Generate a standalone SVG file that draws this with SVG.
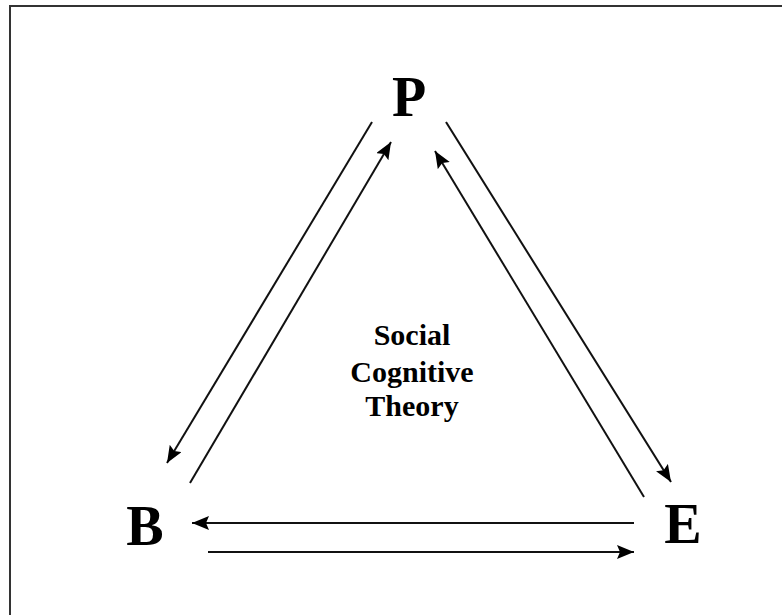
<svg xmlns="http://www.w3.org/2000/svg" width="782" height="615" viewBox="0 0 782 615">
<style>
.lbl{font-family:"Liberation Serif","Times New Roman",serif;font-weight:bold;fill:#000;text-anchor:middle}
.big{font-size:56px}
.mid{font-size:30px}
.con{stroke:#111;stroke-width:2;fill:none;marker-end:url(#ah)}
</style>
<defs>
<marker id="ah" markerUnits="userSpaceOnUse" markerWidth="18" markerHeight="15" refX="17" refY="7" orient="auto">
<path d="M0,0 L17,7 L0,14 L3,7 z" fill="#000"/>
</marker>
</defs>
<rect x="0" y="0" width="782" height="615" fill="#fff"/>
<rect x="10" y="6" width="800" height="640" fill="none" stroke="#333" stroke-width="2"/>
<g id="connectors">
<line class="con" x1="372" y1="122" x2="167" y2="463"/>
<line class="con" x1="190" y1="483" x2="391" y2="142"/>
<line class="con" x1="446" y1="122" x2="671" y2="482"/>
<line class="con" x1="644" y1="497" x2="435" y2="151"/>
<line class="con" x1="634" y1="523" x2="192" y2="523"/>
<line class="con" x1="208" y1="552" x2="634" y2="552"/>
</g>
<g id="node-P"><text class="lbl big" x="409" y="116">P</text></g>
<g id="node-B"><text class="lbl big" x="145" y="545">B</text></g>
<g id="node-E"><text class="lbl big" x="683" y="543">E</text></g>
<g id="node-center">
<text class="lbl mid" x="412" y="345">Social</text>
<text class="lbl mid" x="412" y="382">Cognitive</text>
<text class="lbl mid" x="412" y="416">Theory</text>
</g>
</svg>
